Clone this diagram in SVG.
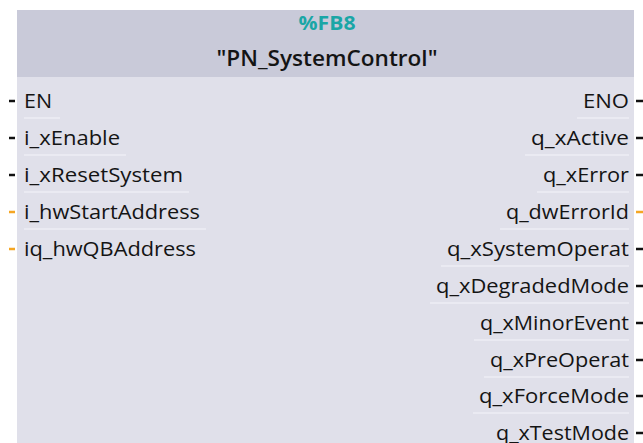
<svg xmlns="http://www.w3.org/2000/svg" width="643" height="443" viewBox="0 0 643 443">
<style>
.pin{font-family:"Open Sans","Noto Sans",sans-serif;font-size:20px;fill:#141414}
.l{text-anchor:start}
.r{text-anchor:end}
.sep{stroke:#eeeef4;stroke-width:1.5}
.stub{stroke:#111;stroke-width:2.5}
.stubo{stroke:#f5a623;stroke-width:2.5}
</style>
<rect x="0" y="0" width="643" height="443" fill="#ffffff"/>
<g id="block">
<rect x="17" y="10" width="617" height="440" fill="#e0e0ea"/>
<rect x="17" y="10" width="617" height="67" fill="#c9cad9"/>
<text x="327" y="30" text-anchor="middle" font-family="Open Sans,Noto Sans,sans-serif" font-size="19" font-weight="bold" fill="#1aa6a6" textLength="57" lengthAdjust="spacingAndGlyphs">%FB8</text>
<text x="327" y="66" text-anchor="middle" font-family="Open Sans,Noto Sans,sans-serif" font-size="21" font-weight="600" fill="#141414" textLength="221" lengthAdjust="spacingAndGlyphs">"PN_SystemControl"</text>
</g>
<g id="inputs">
<g id="in-EN"><line class="stub" x1="9" y1="101" x2="15" y2="101"/><text class="pin l" x="24" y="108" textLength="28" lengthAdjust="spacingAndGlyphs">EN</text><line class="sep" x1="24" y1="118" x2="60" y2="118"/></g>
<g id="in-i_xEnable"><line class="stub" x1="9" y1="138" x2="15" y2="138"/><text class="pin l" x="24" y="145" textLength="96" lengthAdjust="spacingAndGlyphs">i_xEnable</text><line class="sep" x1="24" y1="155" x2="126" y2="155"/></g>
<g id="in-i_xResetSystem"><line class="stub" x1="9" y1="175" x2="15" y2="175"/><text class="pin l" x="24" y="182" textLength="159" lengthAdjust="spacingAndGlyphs">i_xResetSystem</text><line class="sep" x1="24" y1="192" x2="189" y2="192"/></g>
<g id="in-i_hwStartAddress"><line class="stubo" x1="9" y1="212" x2="15" y2="212"/><text class="pin l" x="24" y="219" textLength="176" lengthAdjust="spacingAndGlyphs">i_hwStartAddress</text><line class="sep" x1="24" y1="229" x2="206" y2="229"/></g>
<g id="in-iq_hwQBAddress"><line class="stubo" x1="9" y1="249" x2="15" y2="249"/><text class="pin l" x="24" y="256" textLength="172" lengthAdjust="spacingAndGlyphs">iq_hwQBAddress</text></g>
</g>
<g id="outputs">
<g id="out-ENO"><line class="stub" x1="636" y1="101" x2="643" y2="101"/><text class="pin r" x="629" y="108" textLength="46" lengthAdjust="spacingAndGlyphs">ENO</text><line class="sep" x1="577" y1="118" x2="629" y2="118"/></g>
<g id="out-q_xActive"><line class="stub" x1="636" y1="138" x2="643" y2="138"/><text class="pin r" x="629" y="145" textLength="98" lengthAdjust="spacingAndGlyphs">q_xActive</text><line class="sep" x1="525" y1="155" x2="629" y2="155"/></g>
<g id="out-q_xError"><line class="stub" x1="636" y1="175" x2="643" y2="175"/><text class="pin r" x="629" y="182" textLength="86" lengthAdjust="spacingAndGlyphs">q_xError</text><line class="sep" x1="537" y1="192" x2="629" y2="192"/></g>
<g id="out-q_dwErrorId"><line class="stubo" x1="636" y1="212" x2="643" y2="212"/><text class="pin r" x="629" y="219" textLength="123" lengthAdjust="spacingAndGlyphs">q_dwErrorId</text><line class="sep" x1="500" y1="229" x2="629" y2="229"/></g>
<g id="out-q_xSystemOperat"><line class="stub" x1="636" y1="249" x2="643" y2="249"/><text class="pin r" x="629" y="256" textLength="182" lengthAdjust="spacingAndGlyphs">q_xSystemOperat</text><line class="sep" x1="441" y1="266" x2="629" y2="266"/></g>
<g id="out-q_xDegradedMode"><line class="stub" x1="636" y1="286" x2="643" y2="286"/><text class="pin r" x="629" y="293" textLength="193" lengthAdjust="spacingAndGlyphs">q_xDegradedMode</text><line class="sep" x1="430" y1="303" x2="629" y2="303"/></g>
<g id="out-q_xMinorEvent"><line class="stub" x1="636" y1="323" x2="643" y2="323"/><text class="pin r" x="629" y="330" textLength="149" lengthAdjust="spacingAndGlyphs">q_xMinorEvent</text><line class="sep" x1="474" y1="340" x2="629" y2="340"/></g>
<g id="out-q_xPreOperat"><line class="stub" x1="636" y1="360" x2="643" y2="360"/><text class="pin r" x="629" y="367" textLength="139" lengthAdjust="spacingAndGlyphs">q_xPreOperat</text><line class="sep" x1="484" y1="377" x2="629" y2="377"/></g>
<g id="out-q_xForceMode"><line class="stub" x1="636" y1="396" x2="643" y2="396"/><text class="pin r" x="629" y="403" textLength="150" lengthAdjust="spacingAndGlyphs">q_xForceMode</text><line class="sep" x1="473" y1="413" x2="629" y2="413"/></g>
<g id="out-q_xTestMode"><line class="stub" x1="636" y1="433" x2="643" y2="433"/><text class="pin r" x="629" y="440" textLength="133" lengthAdjust="spacingAndGlyphs">q_xTestMode</text></g>
</g>
</svg>
